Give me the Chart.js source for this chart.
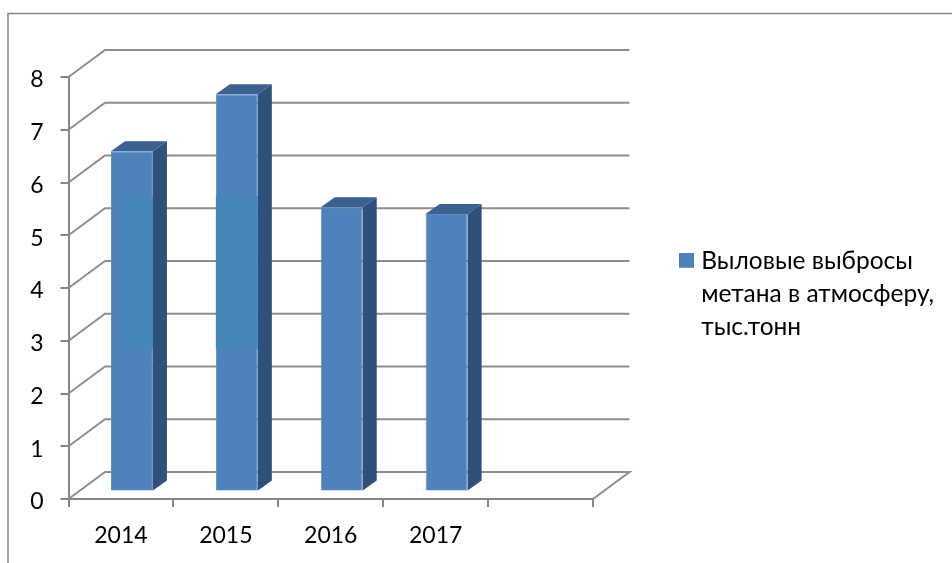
<!DOCTYPE html>
<html><head><meta charset="utf-8">
<style>html,body{margin:0;padding:0;background:#fff}canvas{display:block}</style>
<script src="https://cdn.jsdelivr.net/npm/chart.js@4"></script>
</head><body><canvas id="c" width="952" height="563"></canvas>
<script>
const categories = ['2014','2015','2016','2017',''];
const emissions = [6.45, 7.53, 5.39, 5.26, null];
const seriesLabel = ['Выловые выбросы','метана в атмосферу,','тыс.тонн'];
const yTicks = [0,1,2,3,4,5,6,7,8];
const bandRange = [2.7, 5.6];
const bandInset = [0.29, 0];
const FONT = 'Lato, "Open Sans", sans-serif';
const AXIS = '#868686';
const BAR = '#4f81bd';
const wall = {dx:36.5, dy:-27};
const barShift = {dx:11, dy:-7.5};
const depth = {dx:14, dy:-10};
const swatch = document.createElement('canvas');
swatch.width = 15; swatch.height = 17;
const sc = swatch.getContext('2d'); sc.fillStyle = BAR; sc.fillRect(0,0,15,15);
const threeD = {
  id:'threeD',
  beforeLayout(chart){
    const l = chart.legend;
    if(!l._wrapped){
      const fit = l.fit.bind(l);
      l.fit = function(){ fit(); this.width = 359; };
      l._wrapped = true;
    }
  },
  afterLayout(chart){
    const l = chart.legend; l.left = 674; l.right = 952; l.top = 239; l.bottom = 345;
  },
  beforeDraw(chart){
    const c = chart.ctx, y = chart.scales.y, x = chart.scales.x;
    c.save();
    c.strokeStyle = AXIS; c.lineWidth = 1.5;
    c.beginPath(); c.moveTo(8,563); c.lineTo(8,13.5); c.lineTo(952,13.5); c.stroke();
    c.lineWidth = 2; c.strokeStyle = '#8e8e8e';
    yTicks.forEach(v=>{
      const py = y.getPixelForValue(v);
      c.beginPath();
      c.moveTo(x.left,py); c.lineTo(x.left+wall.dx,py+wall.dy); c.lineTo(x.right+wall.dx,py+wall.dy);
      if(v===0) c.lineTo(x.right,py);
      c.stroke();
    });
    c.restore();
  },
  beforeDatasetsDraw(chart){
    const c = chart.ctx;
    c.save();
    c.translate(barShift.dx, barShift.dy);
    chart.getDatasetMeta(0).data.forEach((b,i)=>{
      if(emissions[i]==null) return;
      const l=b.x-b.width/2, r=b.x+b.width/2, t=b.y, bt=b.base;
      c.fillStyle='#2f5078';
      c.beginPath(); c.moveTo(r,t); c.lineTo(r+depth.dx,t+depth.dy); c.lineTo(r+depth.dx,bt+depth.dy); c.lineTo(r,bt); c.closePath(); c.fill();
      c.fillStyle='#3a6190';
      c.beginPath(); c.moveTo(l,t); c.lineTo(l+depth.dx,t+depth.dy); c.lineTo(r+depth.dx,t+depth.dy); c.lineTo(r,t); c.closePath(); c.fill();
    });
  },
  afterDatasetsDraw(chart){
    const c = chart.ctx, y = chart.scales.y;
    c.fillStyle='#4587bb';
    chart.getDatasetMeta(0).data.forEach((b,i)=>{
      if(bandInset[i]===undefined) return;
      const l=b.x-b.width/2+bandInset[i]*b.width, r=b.x+b.width/2;
      const t=y.getPixelForValue(bandRange[1]), bt=y.getPixelForValue(bandRange[0]);
      c.fillRect(l,t,r-l,bt-t);
    });
    c.restore();
  }
};
new Chart(document.getElementById('c'),{
  type:'bar',
  data:{labels:categories,datasets:[{label:seriesLabel,data:emissions,backgroundColor:BAR,borderColor:'#5d8cc6',borderWidth:1,barPercentage:0.4,categoryPercentage:1}]},
  options:{
    responsive:false,animation:false,
    layout:{padding:{top:77,right:0,left:0,bottom:0}},
    plugins:{
      tooltip:{enabled:false},
      legend:{position:'right',align:'start',labels:{usePointStyle:true,pointStyle:swatch,pointStyleWidth:5,boxHeight:15,padding:10,color:'#000',font:{family:FONT,size:24.5,lineHeight:33/24.5}}}
    },
    scales:{
      x:{grid:{drawOnChartArea:false,drawTicks:true,tickLength:8,color:AXIS,lineWidth:2},border:{display:true,color:AXIS,width:2},
         ticks:{color:'#000',padding:15,font:{family:FONT,size:23},maxRotation:0},afterFit(s){s.height=64;}},
      y:{min:0,max:8,afterBuildTicks(s){s.ticks=yTicks.map(v=>({value:v}));},
         grid:{drawOnChartArea:false,drawTicks:true,tickLength:8,color:AXIS,lineWidth:2},border:{display:true,color:AXIS,width:2},
         ticks:{color:'#000',padding:17,labelOffset:3,font:{family:FONT,size:23}},afterFit(s){s.width=68.5;}}
    }
  },
  plugins:[threeD]
});
</script></body></html>
